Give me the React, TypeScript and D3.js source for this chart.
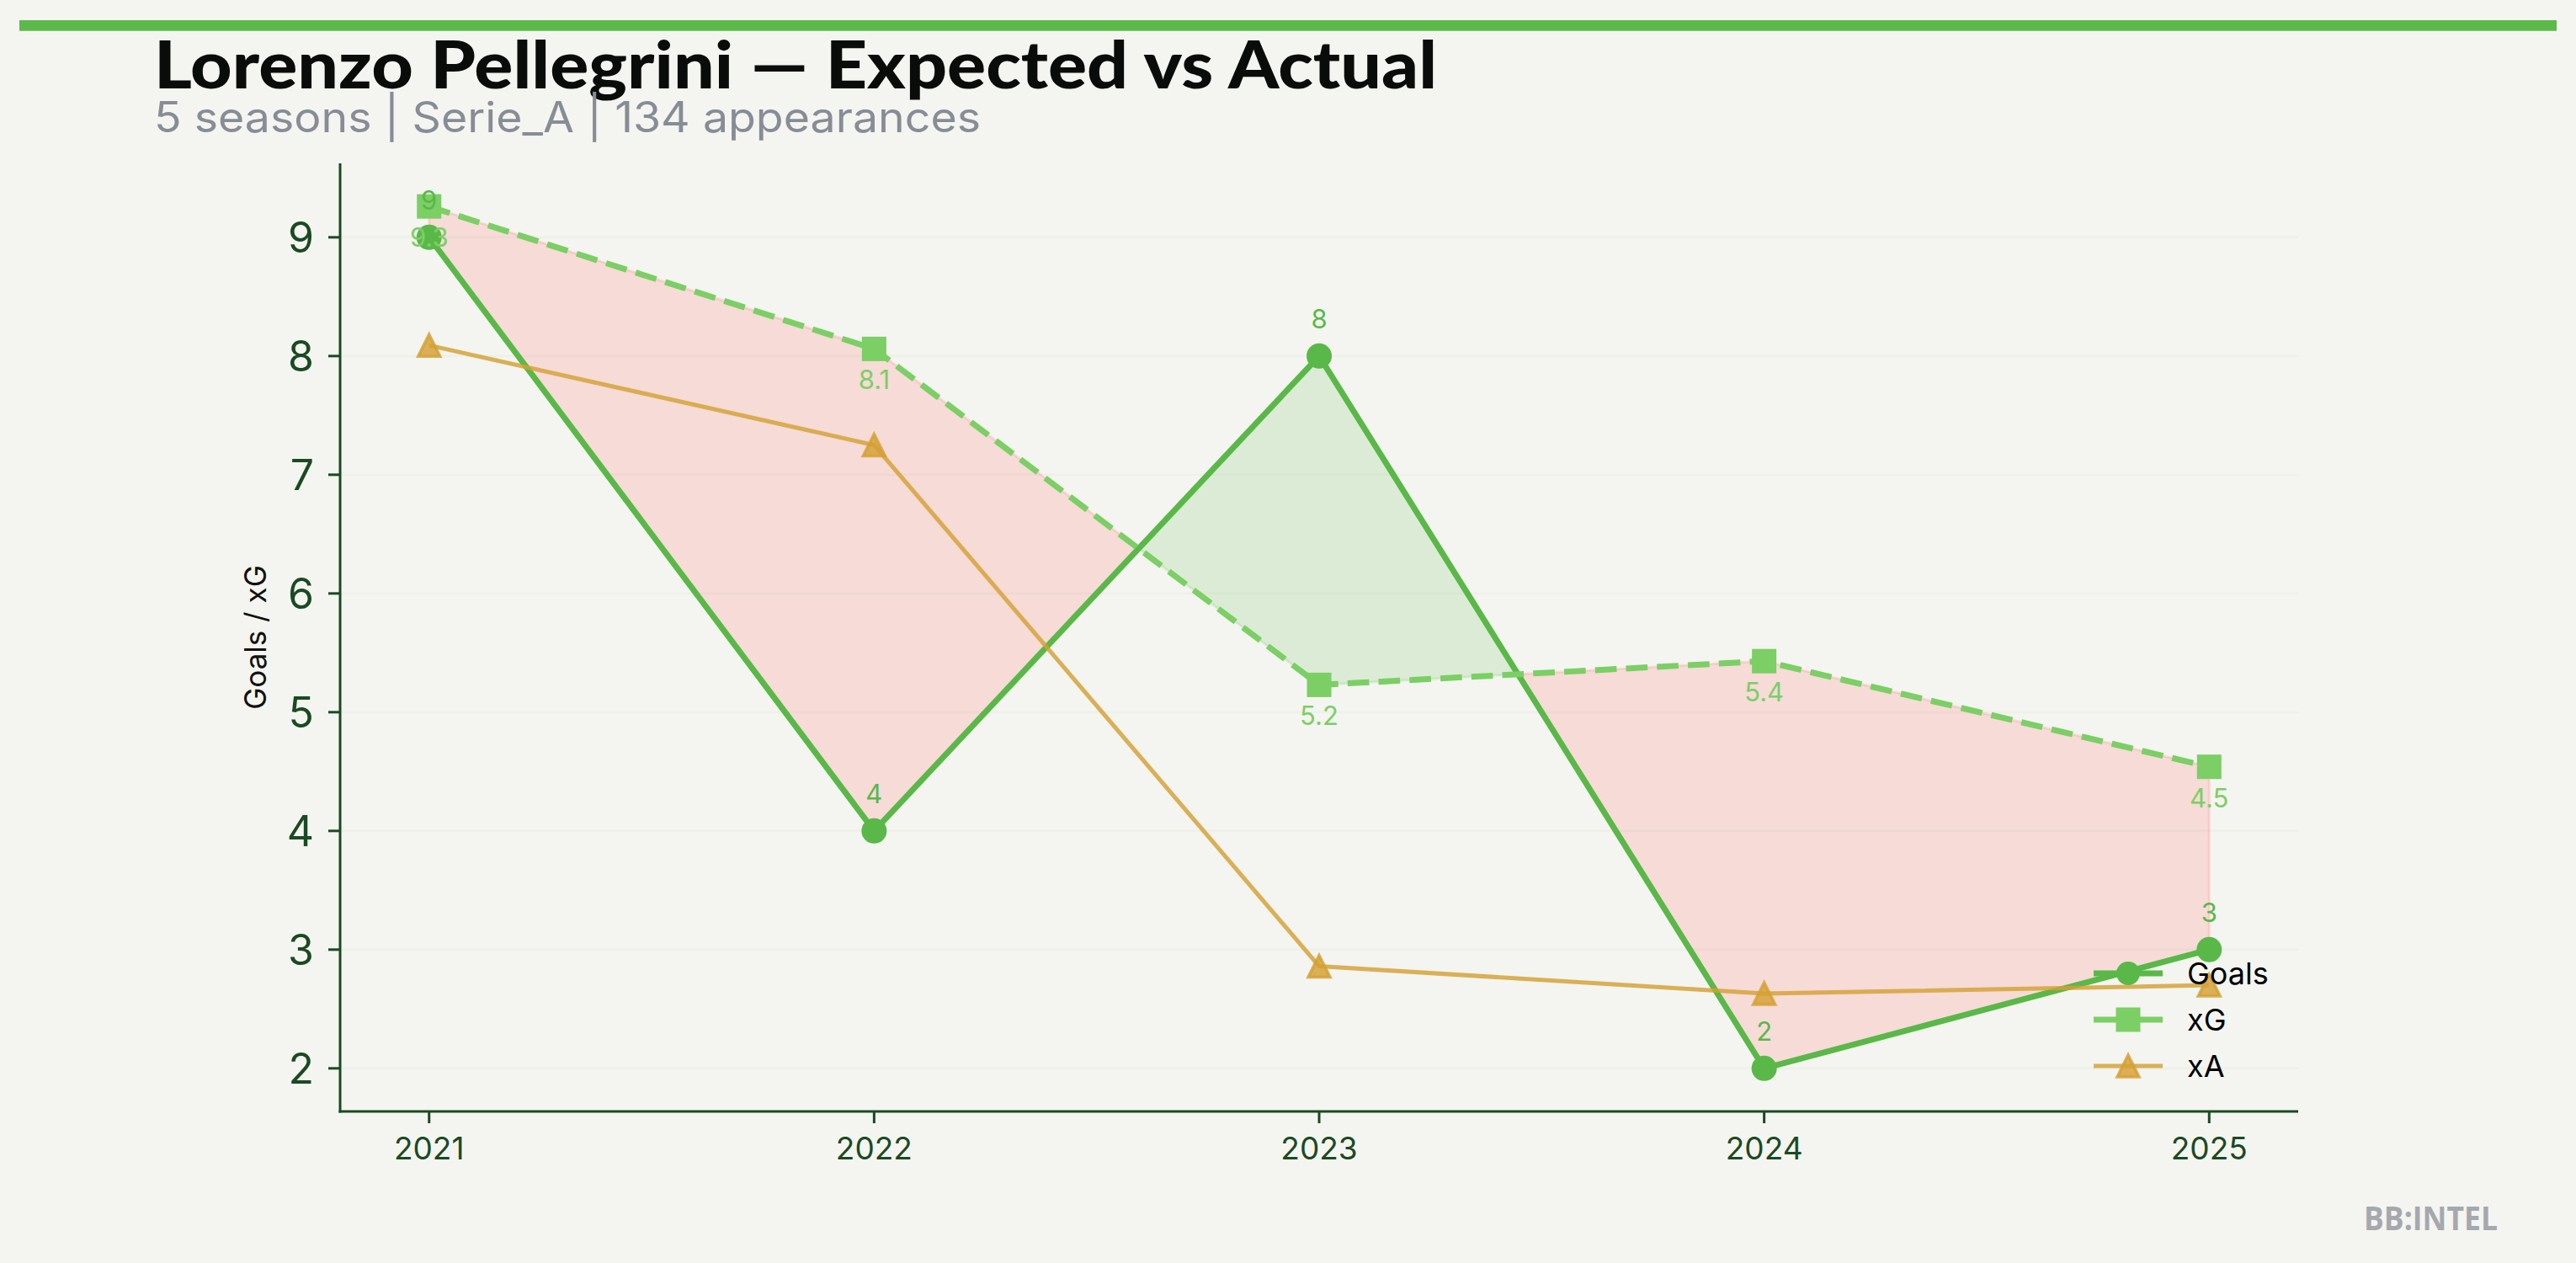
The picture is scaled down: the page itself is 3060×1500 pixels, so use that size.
import React from "react";
import * as d3 from "d3";

const seasons = [2021, 2022, 2023, 2024, 2025];
const goals = [9, 4, 8, 2, 3];
const xg = [9.26, 8.06, 5.23, 5.43, 4.54];
const xa = [8.09, 7.25, 2.86, 2.63, 2.7];
const yTicks = [2, 3, 4, 5, 6, 7, 8, 9];

const TITLE = "Lorenzo Pellegrini — Expected vs Actual";
const SUBTITLE = "5 seasons | Serie_A | 134 appearances";

const W = 3060;
const H = 1500;
const BG = "#f4f5f0";
const AXIS = "#1a4a22";
const GOALS_C = "#5ab848";
const XG_C = "#7bcf65";
const XA_C = "rgba(212,160,51,0.82)";
const PINK = "rgba(255,92,92,0.17)";
const GREEN = "rgba(92,184,74,0.16)";

type P = { x: number; g: number; e: number; cross?: boolean };

export default function App() {
  const x = d3.scaleLinear().domain([2020.8, 2025.2]).range([404, 2730]);
  const y = d3.scaleLinear().domain([1.637, 9.623]).range([1320, 194]);

  // fill_between with interpolation
  const rows: P[] = seasons.map((s, i) => ({ x: s, g: goals[i], e: xg[i] }));
  const dense: P[] = [];
  rows.forEach((r, i) => {
    dense.push(r);
    if (i < rows.length - 1) {
      const n = rows[i + 1];
      const d0 = r.e - r.g;
      const d1 = n.e - n.g;
      if (d0 * d1 < 0) {
        const t = d0 / (d0 - d1);
        const v = r.g + t * (n.g - r.g);
        dense.push({ x: r.x + t * (n.x - r.x), g: v, e: v, cross: true });
      }
    }
  });
  const runs: P[][] = [];
  let start = 0;
  for (let j = 1; j < dense.length; j++) {
    if (dense[j].cross || j === dense.length - 1) {
      runs.push(dense.slice(start, j + 1));
      start = j;
    }
  }
  const polys = runs.map((run) => {
    const s = d3.mean(run, (p) => p.e - p.g) as number;
    const top = run.map((p) => [x(p.x), y(p.e)] as [number, number]);
    const bot = run
      .slice()
      .reverse()
      .map((p) => [x(p.x), y(p.g)] as [number, number]);
    return { d: "M" + top.concat(bot).map((q) => q.join(",")).join("L") + "Z", pink: s > 0 };
  });

  const line = d3
    .line<number>()
    .x((_, i) => x(seasons[i]))
    .y((v) => y(v));

  const tri = (cx: number, cy: number, s: number) =>
    `M${cx},${cy - s / 2}L${cx - s / 2},${cy + s / 2}L${cx + s / 2},${cy + s / 2}Z`;

  const fmt1 = d3.format(".1f");
  const font = "Inter, 'Noto Sans', sans-serif";

  const legendRows = [
    { name: "Goals", y: 1169, kind: "circle" },
    { name: "xG", y: 1224, kind: "square" },
    { name: "xA", y: 1279, kind: "tri" },
  ];

  return (
    <svg
      width={W}
      height={H}
      viewBox={`0 0 ${W} ${H}`}
      style={{ position: "absolute", left: 0, top: 0, background: BG }}
    >
      <rect x={0} y={0} width={W} height={H} fill={BG} />
      <rect x={23} y={24} width={3014} height={12.7} fill="#5cb94a" />

      <text
        x={183}
        y={105}
        fontFamily="Lato, sans-serif"
        fontWeight={900}
        fontSize={79}
        fill="#0a0c0a"
        textLength={1524}
        lengthAdjust="spacingAndGlyphs"
      >
        {TITLE}
      </text>
      <text
        x={183}
        y={157}
        fontFamily={font}
        fontSize={50}
        fill="#878c96"
        textLength={982}
        lengthAdjust="spacingAndGlyphs"
      >
        {SUBTITLE}
      </text>

      {/* grid */}
      {yTicks.map((t) => (
        <line key={"g" + t} x1={404} x2={2730} y1={y(t)} y2={y(t)} stroke="#eff0ea" strokeWidth={3} />
      ))}

      {/* fills */}
      {polys.map((p, i) => (
        <path
          key={"f" + i}
          d={p.d}
          fill={p.pink ? PINK : GREEN}
          stroke={p.pink ? PINK : GREEN}
          strokeWidth={3}
          strokeLinejoin="round"
        />
      ))}

      {/* goals */}
      <path d={line(goals) || ""} fill="none" stroke={GOALS_C} strokeWidth={7} strokeLinejoin="round" />
      {goals.map((v, i) => (
        <circle key={"gc" + i} cx={x(seasons[i])} cy={y(v)} r={15} fill={GOALS_C} />
      ))}

      {/* xG */}
      <path
        d={line(xg) || ""}
        fill="none"
        stroke={XG_C}
        strokeWidth={7}
        strokeDasharray="25.7 11.1"
        strokeLinejoin="round"
      />
      {xg.map((v, i) => (
        <rect key={"xs" + i} x={x(seasons[i]) - 14.5} y={y(v) - 14.5} width={29} height={29} fill={XG_C} />
      ))}

      {/* xA */}
      <path d={line(xa) || ""} fill="none" stroke={XA_C} strokeWidth={5} strokeLinejoin="round" />
      {xa.map((v, i) => (
        <path key={"xt" + i} d={tri(x(seasons[i]), y(v), 26)} fill={XA_C} stroke={XA_C} strokeWidth={3.5} strokeLinejoin="miter" />
      ))}

      {/* value labels */}
      {goals.map((v, i) => (
        <text
          key={"gl" + i}
          x={x(seasons[i])}
          y={y(v) - 44 + 11}
          textAnchor="middle"
          fontFamily={font}
          fontSize={31}
          fill={GOALS_C}
        >
          {String(v)}
        </text>
      ))}
      {xg.map((v, i) => (
        <text
          key={"xl" + i}
          x={x(seasons[i])}
          y={y(v) + 37 + 11}
          textAnchor="middle"
          fontFamily={font}
          fontSize={31}
          fill={XG_C}
        >
          {fmt1(v)}
        </text>
      ))}

      {/* axes */}
      <line x1={404} x2={404} y1={194} y2={1321.5} stroke={AXIS} strokeWidth={3} />
      <line x1={402.5} x2={2730} y1={1320} y2={1320} stroke={AXIS} strokeWidth={3} />
      {yTicks.map((t) => (
        <g key={"yt" + t}>
          <line x1={390} x2={404} y1={y(t)} y2={y(t)} stroke={AXIS} strokeWidth={3} />
          <text x={373} y={y(t) + 18.5} textAnchor="end" fontFamily={font} fontSize={50} fill={AXIS}>
            {t}
          </text>
        </g>
      ))}
      {seasons.map((s) => (
        <g key={"xt" + s}>
          <line x1={x(s)} x2={x(s)} y1={1320} y2={1334} stroke={AXIS} strokeWidth={3} />
          <text x={x(s)} y={1377} textAnchor="middle" fontFamily={font} fontSize={37} fill={AXIS}>
            {s}
          </text>
        </g>
      ))}

      <text
        transform={`translate(316,757) rotate(-90)`}
        textAnchor="middle"
        fontFamily={font}
        fontSize={35}
        fill="#111"
      >
        Goals / xG
      </text>

      {/* legend */}
      {legendRows.map((r) => {
        const cy = r.y - 13;
        const col = r.kind === "circle" ? GOALS_C : r.kind === "square" ? XG_C : XA_C;
        return (
          <g key={"lg" + r.name}>
            <line
              x1={2487}
              x2={2569}
              y1={cy}
              y2={cy}
              stroke={col}
              strokeWidth={r.kind === "tri" ? 5 : 7}
            />
            {r.kind === "circle" && <circle cx={2528} cy={cy} r={14} fill={col} />}
            {r.kind === "square" && <rect x={2528 - 14.5} y={cy - 14.5} width={29} height={29} fill={col} />}
            {r.kind === "tri" && <path d={tri(2528, cy, 26)} fill={col} stroke={col} strokeWidth={3.5} />}
            <text x={2598} y={r.y} fontFamily={font} fontSize={36} fill="#000">
              {r.name}
            </text>
          </g>
        );
      })}

      <text
        x={2808}
        y={1461}
        fontFamily="'Open Sans', sans-serif"
        fontWeight={700}
        fontSize={39}
        fill="#a5a8ae"
        textLength={159}
        lengthAdjust="spacingAndGlyphs"
      >
        BB:INTEL
      </text>
    </svg>
  );
}
